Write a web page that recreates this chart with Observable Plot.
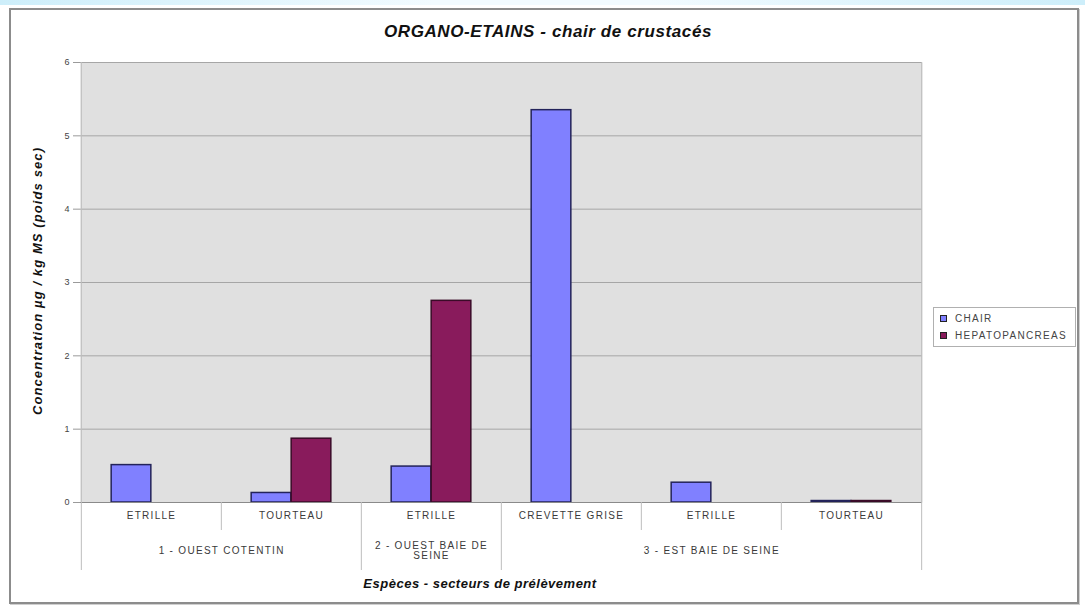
<!DOCTYPE html>
<html>
<head>
<meta charset="utf-8">
<script src="https://cdn.jsdelivr.net/npm/d3@7"></script>
<script src="https://cdn.jsdelivr.net/npm/@observablehq/plot@0.6"></script>
<style>
  html, body { margin: 0; padding: 0; background: #ffffff; }
  body { width: 1085px; height: 606px; overflow: hidden; font-family: "Liberation Sans", Arial, sans-serif; }
  #wrap { position: relative; width: 1085px; height: 606px; }
  #topstrip { position: absolute; left: 0; top: 0; width: 1085px; height: 5px; background: linear-gradient(to right, #cdeefa, #f2fbff 40%, #f2fbff 60%, #cdeefa); }
  #frame { position: absolute; left: 9px; top: 8px; width: 1066px; height: 592px; border: 2px solid #8c8c8c; box-shadow: 1px 1px 0 #cfcfcf; }
  #chart { position: absolute; left: 0; top: 0; }
  #title { position: absolute; left: 548px; top: 32px; transform: translate(-50%, -50%); font-weight: bold; font-style: italic; font-size: 17px; letter-spacing: 0.6px; color: #111; white-space: nowrap; }
  #ylabel { position: absolute; left: 37px; top: 281px; transform: translate(-50%, -50%) rotate(-90deg); font-weight: bold; font-style: italic; font-size: 13px; letter-spacing: 1.1px; color: #111; white-space: nowrap; }
  #xlabel { position: absolute; left: 480px; top: 583px; transform: translate(-50%, -50%); font-weight: bold; font-style: italic; font-size: 13px; letter-spacing: 0.5px; color: #111; white-space: nowrap; }
  #legend { position: absolute; left: 933px; top: 307px; width: 141px; height: 38px; border: 1px solid #b0b0b0; background: #fff; font-size: 10px; letter-spacing: 1.3px; color: #444; }
  .item { position: absolute; left: 6px; display: flex; align-items: center; white-space: nowrap; }
  .sw { width: 5px; height: 5px; border: 1px solid #222; margin-right: 8px; }
  #chart [aria-label="x-axis tick label"] text, #chart [aria-label="text"] text { letter-spacing: 1.3px; }
</style>
</head>
<body>
<div id="wrap">
  <div id="topstrip"></div>
  <div id="frame"></div>
  <div id="chart"></div>
  <div id="title"></div>
  <div id="ylabel"></div>
  <div id="xlabel"></div>
  <div id="legend"></div>
</div>
<script>
// ---- data ----
const titleText = "ORGANO-ETAINS - chair de crustacés";
const yLabelText = "Concentration µg / kg MS (poids sec)";
const xLabelText = "Espèces - secteurs de prélèvement";
const sectors = ["1 - OUEST COTENTIN", "1 - OUEST COTENTIN", "2 - OUEST BAIE DE SEINE", "3 - EST BAIE DE SEINE", "3 - EST BAIE DE SEINE", "3 - EST BAIE DE SEINE"];
const species = ["ETRILLE", "TOURTEAU", "ETRILLE", "CREVETTE GRISE", "ETRILLE", "TOURTEAU"];
const series = ["CHAIR", "HEPATOPANCREAS"];
const chairValues = [0.51, 0.13, 0.49, 5.35, 0.27, 0.02];
const hepatoValues = [null, 0.87, 2.75, null, null, 0.02];
const yTicks = [0, 1, 2, 3, 4, 5, 6];
const colors = ["#8080ff", "#891b5c"];
const strokes = ["#23235a", "#3a0b28"];

// ---- build ----
document.getElementById("title").textContent = titleText;
document.getElementById("ylabel").textContent = yLabelText;
document.getElementById("xlabel").textContent = xLabelText;

const keys = species.map((s, i) => `${i}|${sectors[i]}|${s}`);
const valuesBySeries = [chairValues, hepatoValues];
const rows = [];
series.forEach((name, si) => keys.forEach((k, i) => rows.push({key: k, series: name, value: valuesBySeries[si][i]})));

const W = 1085, H = 606, mL = 80, mR = 163, mT = 62, mB = 104;
const bw = (W - mL - mR) / keys.length;
const slotOuter = bw * 0.215, slotInner = bw / 2;
const labelSize = 10;

// groups of sectors
const groups = [];
sectors.forEach((s, i) => {
  const g = groups[groups.length - 1];
  if (g && g.name === s) g.count++; else groups.push({name: s, first: i, count: 1});
});
const groupStarts = new Set(groups.map(g => g.first));

const marks = [
  Plot.frame({fill: "#e0e0e0", stroke: null}),
  Plot.ruleY(yTicks.filter(v => v > 0), {stroke: "#a6a6a6", strokeWidth: 1}),
  ...series.map((name, si) => Plot.barY(rows.filter(r => r.series === name && r.value != null), {
    x: "key", y: "value", fill: colors[si], stroke: strokes[si], strokeWidth: 1.5,
    insetLeft: si === 0 ? slotOuter : slotInner,
    insetRight: si === 0 ? slotInner : slotOuter
  })),
  Plot.ruleY([0], {stroke: "#8a8a8a"}),
  Plot.axisY({ticks: yTicks, tickFormat: "d", tickSize: 7, tickPadding: 4, fontSize: 9, stroke: "#9a9a9a", color: "#444", label: null}),
  Plot.axisX({tickSize: 0, tickPadding: 9, fontSize: labelSize, color: "#3a3a3a", tickFormat: k => k.split("|")[2], label: null}),
  // short separators between species in the same sector
  Plot.ruleX(keys.filter((k, i) => !groupStarts.has(i)), {x: d => d, y1: 0, y2: 0, insetBottom: -28, dx: -bw / 2, stroke: "#bdbdbd"}),
  // long separators at sector boundaries
  Plot.ruleX(keys.filter((k, i) => groupStarts.has(i) && i > 0), {x: d => d, y1: 0, y2: 0, insetBottom: -68, dx: -bw / 2, stroke: "#bdbdbd"}),
  Plot.ruleX([keys[0]], {x: d => d, insetBottom: -68, dx: -bw / 2, stroke: "#bdbdbd"}),
  Plot.ruleX([keys[keys.length - 1]], {x: d => d, insetBottom: -68, dx: bw / 2, stroke: "#bdbdbd"}),
  ...groups.map(g => Plot.text([g.name], {
    x: () => keys[g.first], y: () => 0, text: d => d,
    dx: (g.count - 1) * bw / 2, dy: 48, fontSize: labelSize, fill: "#3a3a3a",
    lineWidth: (g.count * bw - 40) / labelSize, lineHeight: 1.05
  }))
];

const chart = Plot.plot({
  width: W, height: H,
  marginLeft: mL, marginRight: mR, marginTop: mT, marginBottom: mB,
  style: {fontFamily: "'Liberation Sans', Arial, sans-serif", background: "transparent", overflow: "visible"},
  x: {type: "band", domain: keys, padding: 0, axis: null},
  y: {domain: [0, 6], axis: null},
  marks
});
document.getElementById("chart").appendChild(chart);

// legend
const legend = document.getElementById("legend");
series.forEach((name, si) => {
  const item = document.createElement("div");
  item.className = "item";
  item.style.top = (si === 0 ? 5 : 22) + "px";
  const sw = document.createElement("div");
  sw.className = "sw";
  sw.style.background = colors[si];
  const t = document.createElement("span");
  t.textContent = name;
  item.appendChild(sw); item.appendChild(t);
  legend.appendChild(item);
});
</script>
</body>
</html>
